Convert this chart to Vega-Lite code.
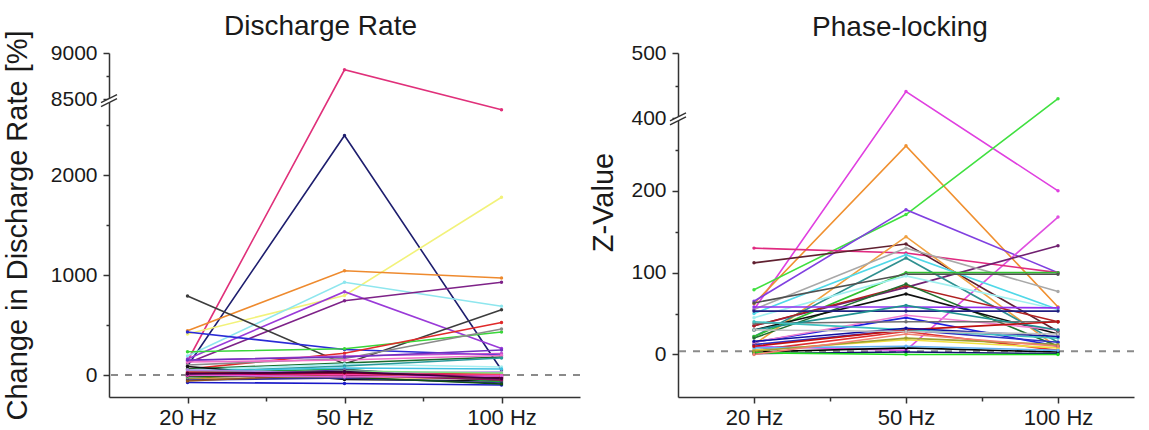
{
  "$schema": "https://vega.github.io/schema/vega-lite/v6.json",
  "padding": {"left": 3, "top": 12, "right": 0, "bottom": 0},
  "bounds": "flush",
  "spacing": 98,
  "config": {
    "font": "Liberation Sans",
    "view": {"stroke": null},
    "axis": {"grid": false, "domainColor": "#333333", "tickColor": "#333333", "labelColor": "#1a1a1a", "labelFontSize": 21, "titleFontSize": 29, "titleFontWeight": "normal", "titleColor": "#1a1a1a", "domainWidth": 1.5, "tickWidth": 1.5, "labelPadding": 6},
    "title": {"fontSize": 28, "fontWeight": "normal", "color": "#1a1a1a", "anchor": "middle", "frame": "group", "baseline": "alphabetic"}
  },
  "resolve": {"scale": {"color": "independent", "x": "independent", "y": "independent"}},
  "datasets": {
    "dr": [
      {"s": "d1", "hz": 20, "v": 140}, {"s": "d1", "hz": 50, "v": 8818}, {"s": "d1", "hz": 100, "v": 8384},
      {"s": "d2", "hz": 20, "v": 90}, {"s": "d2", "hz": 50, "v": 2395}, {"s": "d2", "hz": 100, "v": 50},
      {"s": "d3", "hz": 20, "v": 410}, {"s": "d3", "hz": 50, "v": 795}, {"s": "d3", "hz": 100, "v": 1777},
      {"s": "d4", "hz": 20, "v": 443}, {"s": "d4", "hz": 50, "v": 1043}, {"s": "d4", "hz": 100, "v": 970},
      {"s": "d5", "hz": 20, "v": 190}, {"s": "d5", "hz": 50, "v": 927}, {"s": "d5", "hz": 100, "v": 687},
      {"s": "d6", "hz": 20, "v": 160}, {"s": "d6", "hz": 50, "v": 833}, {"s": "d6", "hz": 100, "v": 265},
      {"s": "d7", "hz": 20, "v": 120}, {"s": "d7", "hz": 50, "v": 743}, {"s": "d7", "hz": 100, "v": 927},
      {"s": "d8", "hz": 20, "v": 790}, {"s": "d8", "hz": 50, "v": 110}, {"s": "d8", "hz": 100, "v": 653},
      {"s": "d9", "hz": 20, "v": 430}, {"s": "d9", "hz": 50, "v": 255}, {"s": "d9", "hz": 100, "v": 200},
      {"s": "d10", "hz": 20, "v": 232}, {"s": "d10", "hz": 50, "v": 262}, {"s": "d10", "hz": 100, "v": 430},
      {"s": "d11", "hz": 20, "v": 60}, {"s": "d11", "hz": 50, "v": 218}, {"s": "d11", "hz": 100, "v": 525},
      {"s": "d12", "hz": 20, "v": 100}, {"s": "d12", "hz": 50, "v": 165}, {"s": "d12", "hz": 100, "v": 460},
      {"s": "d13", "hz": 20, "v": 145}, {"s": "d13", "hz": 50, "v": 190}, {"s": "d13", "hz": 100, "v": 215},
      {"s": "d14", "hz": 20, "v": 60}, {"s": "d14", "hz": 50, "v": 120}, {"s": "d14", "hz": 100, "v": 180},
      {"s": "d15", "hz": 20, "v": 50}, {"s": "d15", "hz": 50, "v": 110}, {"s": "d15", "hz": 100, "v": 80},
      {"s": "d16", "hz": 20, "v": 130}, {"s": "d16", "hz": 50, "v": 150}, {"s": "d16", "hz": 100, "v": 195},
      {"s": "d17", "hz": 20, "v": 85}, {"s": "d17", "hz": 50, "v": -45}, {"s": "d17", "hz": 100, "v": -60},
      {"s": "d18", "hz": 20, "v": -75}, {"s": "d18", "hz": 50, "v": -85}, {"s": "d18", "hz": 100, "v": -100},
      {"s": "d19", "hz": 20, "v": 30}, {"s": "d19", "hz": 50, "v": 90}, {"s": "d19", "hz": 100, "v": 170},
      {"s": "d20", "hz": 20, "v": 150}, {"s": "d20", "hz": 50, "v": 180}, {"s": "d20", "hz": 100, "v": 250},
      {"s": "d21", "hz": 20, "v": 20}, {"s": "d21", "hz": 50, "v": 40}, {"s": "d21", "hz": 100, "v": 0},
      {"s": "d22", "hz": 20, "v": 10}, {"s": "d22", "hz": 50, "v": 30}, {"s": "d22", "hz": 100, "v": -20},
      {"s": "d23", "hz": 20, "v": 0}, {"s": "d23", "hz": 50, "v": 0}, {"s": "d23", "hz": 100, "v": -10},
      {"s": "d24", "hz": 20, "v": -10}, {"s": "d24", "hz": 50, "v": 10}, {"s": "d24", "hz": 100, "v": -30},
      {"s": "d25", "hz": 20, "v": 10}, {"s": "d25", "hz": 50, "v": -10}, {"s": "d25", "hz": 100, "v": 0},
      {"s": "d26", "hz": 20, "v": -40}, {"s": "d26", "hz": 50, "v": -20}, {"s": "d26", "hz": 100, "v": -40},
      {"s": "d27", "hz": 20, "v": -30}, {"s": "d27", "hz": 50, "v": 20}, {"s": "d27", "hz": 100, "v": -50},
      {"s": "d28", "hz": 20, "v": 20}, {"s": "d28", "hz": 50, "v": 60}, {"s": "d28", "hz": 100, "v": -70},
      {"s": "d29", "hz": 20, "v": 40}, {"s": "d29", "hz": 50, "v": 70}, {"s": "d29", "hz": 100, "v": 60},
      {"s": "d30", "hz": 20, "v": -20}, {"s": "d30", "hz": 50, "v": 50}, {"s": "d30", "hz": 100, "v": -20},
      {"s": "d31", "hz": 20, "v": 30}, {"s": "d31", "hz": 50, "v": 10}, {"s": "d31", "hz": 100, "v": 10},
      {"s": "d32", "hz": 20, "v": 0}, {"s": "d32", "hz": 50, "v": 30}, {"s": "d32", "hz": 100, "v": -40},
      {"s": "d33", "hz": 20, "v": -50}, {"s": "d33", "hz": 50, "v": -30}, {"s": "d33", "hz": 100, "v": -80},
      {"s": "d34", "hz": 20, "v": 50}, {"s": "d34", "hz": 50, "v": 20}, {"s": "d34", "hz": 100, "v": 30},
      {"s": "d35", "hz": 20, "v": 20}, {"s": "d35", "hz": 50, "v": 0}, {"s": "d35", "hz": 100, "v": -50},
      {"s": "d36", "hz": 20, "v": -20}, {"s": "d36", "hz": 50, "v": 40}, {"s": "d36", "hz": 100, "v": 20},
      {"s": "d37", "hz": 20, "v": -10}, {"s": "d37", "hz": 50, "v": -20}, {"s": "d37", "hz": 100, "v": -90},
      {"s": "d38", "hz": 20, "v": -60}, {"s": "d38", "hz": 50, "v": 10}, {"s": "d38", "hz": 100, "v": -30},
      {"s": "d39", "hz": 20, "v": 5}, {"s": "d39", "hz": 50, "v": 5}, {"s": "d39", "hz": 100, "v": -5},
      {"s": "d40", "hz": 20, "v": -5}, {"s": "d40", "hz": 50, "v": 20}, {"s": "d40", "hz": 100, "v": -15},
      {"s": "d41", "hz": 20, "v": 15}, {"s": "d41", "hz": 50, "v": 25}, {"s": "d41", "hz": 100, "v": -25},
      {"s": "d42", "hz": 20, "v": 0}, {"s": "d42", "hz": 50, "v": -20}, {"s": "d42", "hz": 100, "v": -10},
      {"s": "d43", "hz": 20, "v": 10}, {"s": "d43", "hz": 50, "v": 35}, {"s": "d43", "hz": 100, "v": -35}
    ],
    "pl": [
      {"s": "p1", "hz": 20, "v": 55}, {"s": "p1", "hz": 50, "v": 441}, {"s": "p1", "hz": 100, "v": 200},
      {"s": "p2", "hz": 20, "v": 62}, {"s": "p2", "hz": 50, "v": 255}, {"s": "p2", "hz": 100, "v": 58},
      {"s": "p3", "hz": 20, "v": 79}, {"s": "p3", "hz": 50, "v": 171}, {"s": "p3", "hz": 100, "v": 430},
      {"s": "p4", "hz": 20, "v": 65}, {"s": "p4", "hz": 50, "v": 177}, {"s": "p4", "hz": 100, "v": 100},
      {"s": "p5", "hz": 20, "v": 10}, {"s": "p5", "hz": 50, "v": 5}, {"s": "p5", "hz": 100, "v": 168},
      {"s": "p6", "hz": 20, "v": 130}, {"s": "p6", "hz": 50, "v": 124}, {"s": "p6", "hz": 100, "v": 100},
      {"s": "p7", "hz": 20, "v": 112}, {"s": "p7", "hz": 50, "v": 135}, {"s": "p7", "hz": 100, "v": 28},
      {"s": "p8", "hz": 20, "v": 35}, {"s": "p8", "hz": 50, "v": 82}, {"s": "p8", "hz": 100, "v": 133},
      {"s": "p9", "hz": 20, "v": 12}, {"s": "p9", "hz": 50, "v": 144}, {"s": "p9", "hz": 100, "v": 8},
      {"s": "p10", "hz": 20, "v": 50}, {"s": "p10", "hz": 50, "v": 122}, {"s": "p10", "hz": 100, "v": 55},
      {"s": "p11", "hz": 20, "v": 22}, {"s": "p11", "hz": 50, "v": 118}, {"s": "p11", "hz": 100, "v": 15},
      {"s": "p12", "hz": 20, "v": 55}, {"s": "p12", "hz": 50, "v": 130}, {"s": "p12", "hz": 100, "v": 77},
      {"s": "p13", "hz": 20, "v": 22}, {"s": "p13", "hz": 50, "v": 100}, {"s": "p13", "hz": 100, "v": 100},
      {"s": "p14", "hz": 20, "v": 63}, {"s": "p14", "hz": 50, "v": 98}, {"s": "p14", "hz": 100, "v": 98},
      {"s": "p15", "hz": 20, "v": 45}, {"s": "p15", "hz": 50, "v": 96}, {"s": "p15", "hz": 100, "v": 55},
      {"s": "p16", "hz": 20, "v": 35}, {"s": "p16", "hz": 50, "v": 84}, {"s": "p16", "hz": 100, "v": 40},
      {"s": "p17", "hz": 20, "v": 20}, {"s": "p17", "hz": 50, "v": 86}, {"s": "p17", "hz": 100, "v": 10},
      {"s": "p18", "hz": 20, "v": 30}, {"s": "p18", "hz": 50, "v": 74}, {"s": "p18", "hz": 100, "v": 25},
      {"s": "p19", "hz": 20, "v": 53}, {"s": "p19", "hz": 50, "v": 53}, {"s": "p19", "hz": 100, "v": 53},
      {"s": "p20", "hz": 20, "v": 15}, {"s": "p20", "hz": 50, "v": 45}, {"s": "p20", "hz": 100, "v": 10},
      {"s": "p21", "hz": 20, "v": 58}, {"s": "p21", "hz": 50, "v": 58}, {"s": "p21", "hz": 100, "v": 57},
      {"s": "p22", "hz": 20, "v": 12}, {"s": "p22", "hz": 50, "v": 30}, {"s": "p22", "hz": 100, "v": 15},
      {"s": "p23", "hz": 20, "v": 5}, {"s": "p23", "hz": 50, "v": 28}, {"s": "p23", "hz": 100, "v": 5},
      {"s": "p24", "hz": 20, "v": 5}, {"s": "p24", "hz": 50, "v": 18}, {"s": "p24", "hz": 100, "v": 8},
      {"s": "p25", "hz": 20, "v": 15}, {"s": "p25", "hz": 50, "v": 48}, {"s": "p25", "hz": 100, "v": 30},
      {"s": "p26", "hz": 20, "v": 38}, {"s": "p26", "hz": 50, "v": 40}, {"s": "p26", "hz": 100, "v": 40},
      {"s": "p27", "hz": 20, "v": 3}, {"s": "p27", "hz": 50, "v": 8}, {"s": "p27", "hz": 100, "v": 3},
      {"s": "p28", "hz": 20, "v": 1}, {"s": "p28", "hz": 50, "v": 3}, {"s": "p28", "hz": 100, "v": 1},
      {"s": "p29", "hz": 20, "v": 2}, {"s": "p29", "hz": 50, "v": 0}, {"s": "p29", "hz": 100, "v": 0},
      {"s": "p30", "hz": 20, "v": 8}, {"s": "p30", "hz": 50, "v": 10}, {"s": "p30", "hz": 100, "v": 5},
      {"s": "p31", "hz": 20, "v": 4}, {"s": "p31", "hz": 50, "v": 20}, {"s": "p31", "hz": 100, "v": 12},
      {"s": "p32", "hz": 20, "v": 30}, {"s": "p32", "hz": 50, "v": 60}, {"s": "p32", "hz": 100, "v": 30},
      {"s": "p33", "hz": 20, "v": 0}, {"s": "p33", "hz": 50, "v": 25}, {"s": "p33", "hz": 100, "v": 10},
      {"s": "p34", "hz": 20, "v": 40}, {"s": "p34", "hz": 50, "v": 30}, {"s": "p34", "hz": 100, "v": 20},
      {"s": "p35", "hz": 20, "v": 10}, {"s": "p35", "hz": 50, "v": 30}, {"s": "p35", "hz": 100, "v": 40},
      {"s": "p36", "hz": 20, "v": 16}, {"s": "p36", "hz": 50, "v": 32}, {"s": "p36", "hz": 100, "v": 22},
      {"s": "p37", "hz": 20, "v": 30}, {"s": "p37", "hz": 50, "v": 28}, {"s": "p37", "hz": 100, "v": 25}
    ]
  },
  "hconcat": [
    {
      "width": 471,
      "height": 344,
      "title": {"text": "Discharge Rate", "offset": -11, "dx": -24},
      "layer": [
        {
          "data": {"values": [{}]},
          "mark": {"type": "rule", "strokeDash": [7, 7], "color": "#8a8a8a", "strokeWidth": 2},
          "encoding": {"y": {"datum": 0, "type": "quantitative"}}
        },
        {
          "data": {"name": "dr"},
          "mark": {"type": "line", "strokeWidth": 1.6},
          "encoding": {
            "x": {"field": "hz", "type": "quantitative",
              "scale": {"type": "linear", "domain": [5, 20, 50, 100, 125], "range": [0, 78.5, 235.5, 392.5, 471], "nice": false, "zero": false},
              "axis": {"values": [20, 35, 50, 75, 100], "title": null, "labelExpr": "datum.value == 35 || datum.value == 75 ? '' : datum.value + ' Hz'", "labelFontSize": 22, "labelPadding": 4, "tickSize": {"condition": {"test": "datum.value == 35 || datum.value == 75", "value": 4}, "value": 6}}},
            "y": {"field": "v", "type": "quantitative",
              "scale": {"type": "linear", "domain": [-220, 2650, 8384, 9000], "range": [344, 57, 56.7, 0], "nice": false, "zero": false},
              "axis": {"values": [0, 500, 1000, 1500, 2000, 2500, 8500, 8750, 9000], "format": "d", "title": "Change in Discharge Rate [%]", "titlePadding": 18, "labelExpr": "indexof([0, 1000, 2000, 8500, 9000], datum.value) >= 0 ? datum.label : ''", "tickSize": {"condition": {"test": "indexof([500, 1500, 2500, 8750], datum.value) >= 0", "value": 3}, "value": 6}}},
            "color": {"field": "s", "type": "nominal", "legend": null,
              "scale": {"domain": ["d1","d2","d3","d4","d5","d6","d7","d8","d9","d10","d11","d12","d13","d14","d15","d16","d17","d18","d19","d20","d21","d22","d23","d24","d25","d26","d27","d28","d29","d30","d31","d32","d33","d34","d35","d36","d37","d38","d39","d40","d41","d42","d43"],
                "range": ["#e0307a","#1e1e6e","#f2f27a","#ee8a2e","#8ee6ee","#9a3ad8","#7e2288","#3c3c3c","#2a2ad6","#3ad63a","#e02a2a","#8a8a8a","#c050d0","#1a6a2a","#a6eef0","#f070c8","#101010","#1a1ac8","#2a9a9a","#7030c0","#801818","#a01010","#ff50b0","#d020a0","#f090d0","#e0a040","#808020","#20a040","#40c0e0","#6020a0","#ff3030","#202020","#303090","#b080e0","#901060","#80e080","#105010","#905020","#ff40a0","#c00060","#600010","#e060e0","#400040"]}}
          }
        },
        {
          "data": {"name": "dr"},
          "mark": {"type": "point", "filled": true, "size": 12, "opacity": 1},
          "encoding": {
            "x": {"field": "hz", "type": "quantitative"},
            "y": {"field": "v", "type": "quantitative"},
            "color": {"field": "s", "type": "nominal", "legend": null}
          }
        },
        {
          "data": {"values": [{}]},
          "mark": {"type": "point", "shape": "M-1 0.25 L1 -0.75 L1 -0.25 L-1 0.75 Z", "filled": true, "fill": "white", "strokeWidth": 0, "size": 256, "opacity": 1},
          "encoding": {"x": {"datum": 5, "type": "quantitative"}, "y": {"datum": 8482, "type": "quantitative"}}
        },
        {
          "data": {"values": [{}]},
          "mark": {"type": "point", "shape": "M-1 0.25 L1 -0.75 M-1 0.75 L1 -0.25", "filled": false, "stroke": "#333333", "strokeWidth": 1.5, "size": 256, "opacity": 1},
          "encoding": {"x": {"datum": 5, "type": "quantitative"}, "y": {"datum": 8482, "type": "quantitative"}}
        }
      ]
    },
    {
      "width": 456,
      "height": 344,
      "title": {"text": "Phase-locking", "offset": 0, "dx": -6},
      "layer": [
        {
          "data": {"values": [{}]},
          "mark": {"type": "rule", "strokeDash": [7, 7], "color": "#8a8a8a", "strokeWidth": 2},
          "encoding": {"y": {"datum": 4, "type": "quantitative"}}
        },
        {
          "data": {"name": "pl"},
          "mark": {"type": "line", "strokeWidth": 1.6},
          "encoding": {
            "x": {"field": "hz", "type": "quantitative",
              "scale": {"type": "linear", "domain": [5, 20, 50, 100, 125], "range": [0, 76, 228, 380, 456], "nice": false, "zero": false},
              "axis": {"values": [20, 35, 50, 75, 100], "title": null, "labelExpr": "datum.value == 35 || datum.value == 75 ? '' : datum.value + ' Hz'", "labelFontSize": 22, "labelPadding": 4, "tickSize": {"condition": {"test": "datum.value == 35 || datum.value == 75", "value": 4}, "value": 6}}},
            "y": {"field": "v", "type": "quantitative",
              "scale": {"type": "linear", "domain": [-52, 280, 400, 500], "range": [344, 72.4, 65.3, 0], "nice": false, "zero": false},
              "axis": {"values": [0, 50, 100, 150, 200, 250, 400, 450, 500], "format": "d", "title": "Z-Value", "titlePadding": 12, "titleY": 149, "labelExpr": "indexof([0, 100, 200, 400, 500], datum.value) >= 0 ? datum.label : ''", "tickSize": {"condition": {"test": "indexof([50, 150, 250, 450], datum.value) >= 0", "value": 3}, "value": 6}}},
            "color": {"field": "s", "type": "nominal", "legend": null,
              "scale": {"domain": ["p1","p2","p3","p4","p5","p6","p7","p8","p9","p10","p11","p12","p13","p14","p15","p16","p17","p18","p19","p20","p21","p22","p23","p24","p25","p26","p27","p28","p29","p30","p31","p32","p33","p34","p35","p36","p37"],
                "range": ["#e040e0","#f09030","#40e040","#8040e0","#e050e0","#e02a80","#602030","#702070","#f0a040","#50d8e8","#309090","#a8a8a8","#30c030","#505050","#a0f0f0","#b02020","#207030","#101010","#202080","#2020e0","#9030f0","#3030c0","#e03030","#f0e040","#f080d0","#707070","#000000","#101070","#20e020","#60b0f0","#a0a030","#209090","#f08070","#40c0c0","#c01010","#1010a0","#c0c0c0"]}}
          }
        },
        {
          "data": {"name": "pl"},
          "mark": {"type": "point", "filled": true, "size": 12, "opacity": 1},
          "encoding": {
            "x": {"field": "hz", "type": "quantitative"},
            "y": {"field": "v", "type": "quantitative"},
            "color": {"field": "s", "type": "nominal", "legend": null}
          }
        },
        {
          "data": {"values": [{}]},
          "mark": {"type": "point", "shape": "M-1 0.25 L1 -0.75 L1 -0.25 L-1 0.75 Z", "filled": true, "fill": "white", "strokeWidth": 0, "size": 256, "opacity": 1},
          "encoding": {"x": {"datum": 5, "type": "quantitative"}, "y": {"datum": 390, "type": "quantitative"}}
        },
        {
          "data": {"values": [{}]},
          "mark": {"type": "point", "shape": "M-1 0.25 L1 -0.75 M-1 0.75 L1 -0.25", "filled": false, "stroke": "#333333", "strokeWidth": 1.5, "size": 256, "opacity": 1},
          "encoding": {"x": {"datum": 5, "type": "quantitative"}, "y": {"datum": 390, "type": "quantitative"}}
        }
      ]
    }
  ]
}
